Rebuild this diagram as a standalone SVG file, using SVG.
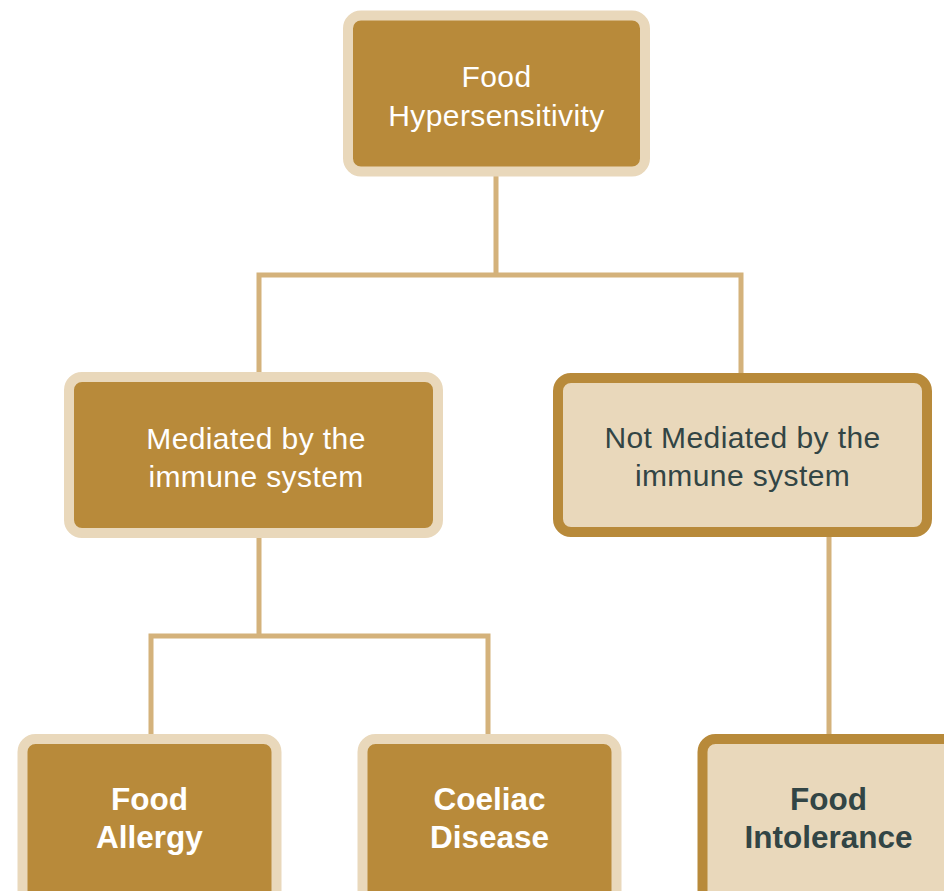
<svg xmlns="http://www.w3.org/2000/svg" width="944" height="891" viewBox="0 0 944 891">
  <style>
    .dark rect { fill: #b88a3a; stroke: #e9d8bb; stroke-width: 10; }
    .light rect { fill: #e9d8bb; stroke: #b88a3a; stroke-width: 10; }
    .conn { fill: none; stroke: #d4b27b; stroke-width: 5; stroke-linejoin: miter; }
    text { font-family: "Liberation Sans", Arial, sans-serif; text-anchor: middle; font-size: 30px; }
    .dark text { fill: #ffffff; }
    .light text { fill: #324545; }
    .reg { font-weight: 300; letter-spacing: 0.4px; }
    .bold { font-weight: bold; font-size: 31.5px; }
  </style>
  <rect width="944" height="891" fill="#ffffff"/>
  <g id="connectors">
    <path class="conn" d="M496,176 V275 M259,372 V275 H741 V373"/>
    <path class="conn" d="M259,538 V636 M151,734 V636 H488 V734"/>
    <path class="conn" d="M829,537 V734"/>
  </g>
  <g id="food-hypersensitivity" class="dark">
    <rect x="348" y="15.5" width="297" height="156" rx="13"/>
    <text class="reg" x="496.5" y="87">Food</text>
    <text class="reg" x="496.5" y="126">Hypersensitivity</text>
  </g>
  <g id="mediated" class="dark">
    <rect x="69" y="377" width="369" height="156" rx="13"/>
    <text class="reg" x="256" y="449">Mediated by the</text>
    <text class="reg" x="256" y="487">immune system</text>
  </g>
  <g id="not-mediated" class="light">
    <rect x="558" y="378" width="369" height="154" rx="13"/>
    <text class="reg" x="742.5" y="448">Not Mediated by the</text>
    <text class="reg" x="742.5" y="486">immune system</text>
  </g>
  <g id="food-allergy" class="dark">
    <rect x="22.5" y="739" width="254" height="170" rx="13"/>
    <text class="bold" x="149.5" y="810">Food</text>
    <text class="bold" x="149.5" y="848">Allergy</text>
  </g>
  <g id="coeliac-disease" class="dark">
    <rect x="362.5" y="739" width="254" height="170" rx="13"/>
    <text class="bold" x="489.5" y="810">Coeliac</text>
    <text class="bold" x="489.5" y="848">Disease</text>
  </g>
  <g id="food-intolerance" class="light">
    <rect x="702.5" y="739" width="254" height="170" rx="13"/>
    <text class="bold" x="828.5" y="810">Food</text>
    <text class="bold" x="828.5" y="848">Intolerance</text>
  </g>
</svg>
